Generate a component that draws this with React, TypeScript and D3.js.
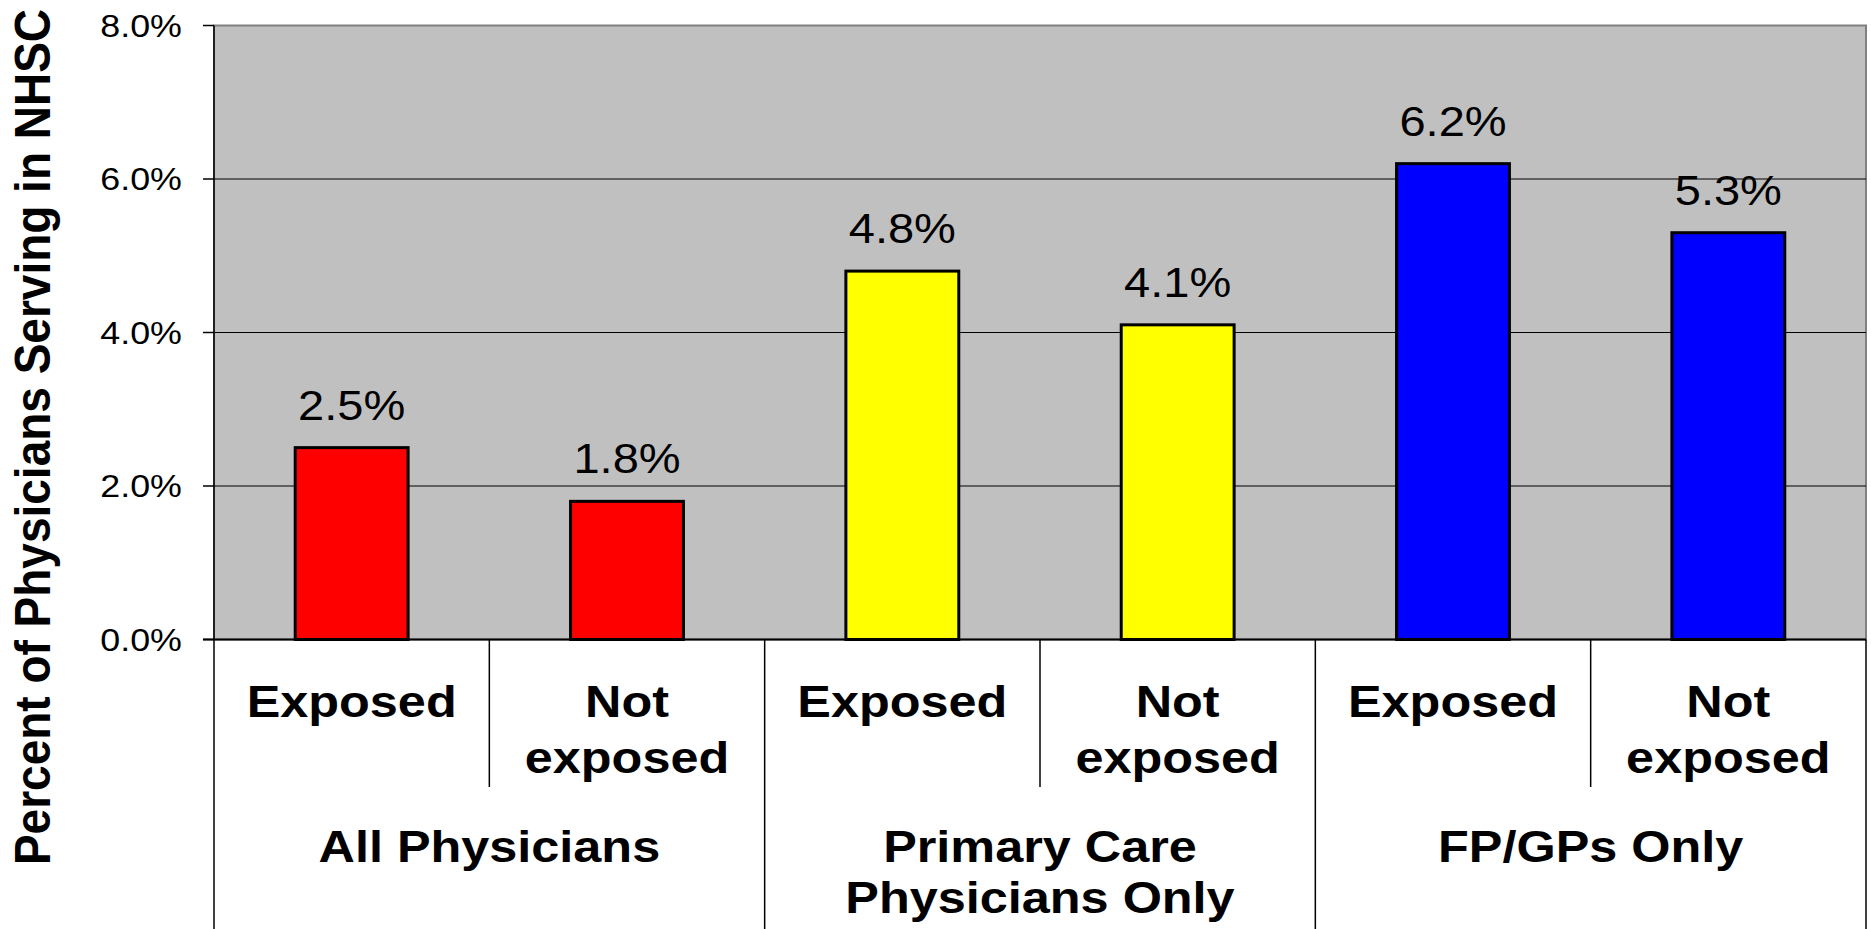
import React from 'react'
import * as d3 from 'd3'

// categories, groups and values
const groups = ['All Physicians', 'Primary Care|Physicians Only', 'FP/GPs Only']
const subCategories = ['Exposed', 'Not|exposed']
const values = [0.025, 0.018, 0.048, 0.041, 0.062, 0.053]
const groupColors = ['#FF0000', '#FFFF00', '#0000FF']
const yTicks = [0, 0.02, 0.04, 0.06, 0.08]
const yTitle = 'Percent of Physicians Serving in NHSC'

const width = 1871,
    height = 929
const left = 214,
    right = 1866,
    top = 25.5,
    bottom = 639.5
const sx = 1.12 // the picture is a bit wider than the font
const font = "'Liberation Sans', Arial, sans-serif"

const App = () => {
    const bars = values.map((v, i) => ({
        key: i,
        value: v,
        group: Math.floor(i / subCategories.length),
        sub: subCategories[i % subCategories.length],
    }))

    const x = d3.scaleBand<number>()
        .domain(bars.map(d => d.key))
        .range([left, right])
        .padding(0)

    const y = d3.scaleLinear()
        .domain([0, 0.08])
        .range([bottom, top])

    const fmt = d3.format('.1%')
    const barW = x.bandwidth() * 0.41
    const step = x.step()

    const lines = (s: string) => s.split('|')

    return (
        <svg width={width} height={height} style={{ position: 'absolute', left: 0, top: 0, background: '#fff' }}
            fontFamily={font}>
            {/* plot background */}
            <rect x={left} y={top} width={right - left} height={bottom - top} fill="#C0C0C0"
                stroke="#808080" strokeWidth={2} />

            {/* grid lines and ticks */}
            {yTicks.map(t => (
                <g key={t}>
                    {t > 0 && t < 0.08 && (
                        <line x1={left} x2={right} y1={y(t)} y2={y(t)} stroke="#000" strokeWidth={1} />
                    )}
                    <line x1={left - 11} x2={left} y1={y(t)} y2={y(t)} stroke="#000" strokeWidth={1.5} />
                    <text transform={`translate(${182},${y(t) + 11}) scale(${sx},1)`} textAnchor="end"
                        fontSize={32} fill="#000">{fmt(t)}</text>
                </g>
            ))}

            {/* bars */}
            {bars.map(d => {
                const cx = (x(d.key) as number) + x.bandwidth() / 2
                return (
                    <g key={d.key}>
                        <rect x={cx - barW / 2} y={y(d.value)} width={barW} height={bottom - y(d.value)}
                            fill={groupColors[d.group]} stroke="#000" strokeWidth={3} />
                        <text transform={`translate(${cx},${y(d.value) - 28}) scale(${sx},1)`} textAnchor="middle"
                            fontSize={42} fill="#000">{fmt(d.value)}</text>
                    </g>
                )
            })}

            {/* axes */}
            <line x1={left} x2={left} y1={top} y2={height} stroke="#000" strokeWidth={1.5} />
            <line x1={right} x2={right} y1={bottom} y2={height} stroke="#000" strokeWidth={1.5} />
            <line x1={left - 11} x2={right} y1={bottom} y2={bottom} stroke="#000" strokeWidth={2} />

            {/* category separators */}
            {bars.slice(1).map(d => {
                const bx = x(d.key) as number
                const isGroupEdge = d.key % subCategories.length === 0
                return (
                    <line key={d.key} x1={bx} x2={bx} y1={bottom} y2={isGroupEdge ? height : 787}
                        stroke="#000" strokeWidth={1.5} />
                )
            })}

            {/* sub category labels */}
            {bars.map(d => {
                const cx = (x(d.key) as number) + x.bandwidth() / 2
                return lines(d.sub).map((s, j) => (
                    <text key={`${d.key}-${j}`} transform={`translate(${cx},${717 + j * 56}) scale(${sx},1)`}
                        textAnchor="middle" fontSize={45} fontWeight="bold" fill="#000">{s}</text>
                ))
            })}

            {/* group labels */}
            {groups.map((g, i) => {
                const cx = left + step * subCategories.length * (i + 0.5)
                return lines(g).map((s, j) => (
                    <text key={`${i}-${j}`} transform={`translate(${cx},${862 + j * 51}) scale(${sx},1)`}
                        textAnchor="middle" fontSize={45} fontWeight="bold" fill="#000">{s}</text>
                ))
            })}

            {/* y axis title */}
            <text transform={`translate(50,437) rotate(-90) scale(1,1.07)`} textAnchor="middle"
                fontSize={46} fontWeight="bold" fill="#000">{yTitle}</text>
        </svg>
    )
}

export default App
